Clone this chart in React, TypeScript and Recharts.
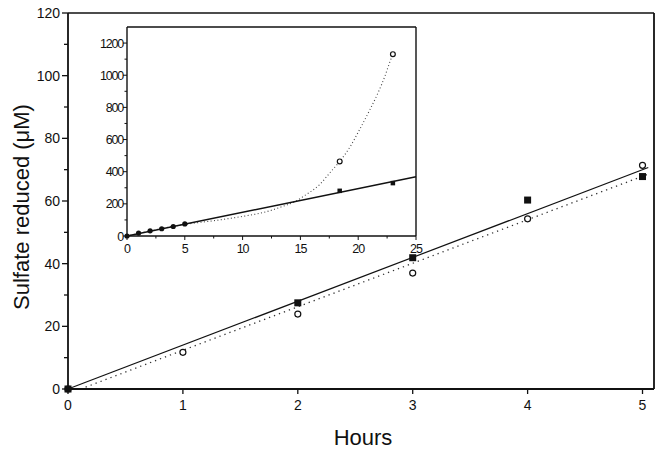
import { ComposedChart, Line, ReferenceLine, Scatter, XAxis, YAxis } from 'recharts'

const FONT = '"Liberation Sans", Arial, Helvetica, sans-serif'
const INK = '#111'

// main panel: sulfate reduced (uM) vs hours
const hours = [0, 1, 2, 3, 4, 5]
const filledSquares = [0, null, 27.5, 41.9, 60.3, 67.8]
const openCircles = [0, 11.7, 23.9, 37.0, 54.3, 71.4]
const solidFitX = [0, 5.05]
const solidFitY = [0, 70.7]
const dottedFitX = [0.11, 5.05]
const dottedFitY = [0, 68.6]
const mainXTicks = [0, 1, 2, 3, 4, 5]
const mainYTicks = [0, 10, 20, 30, 40, 50, 60, 70, 80, 90, 100, 110, 120]
const mainXMax = 5.1
const mainYMax = 120

// inset: same incubation over a longer time
const insetEarlyX = [0, 1, 2, 3, 4, 5]
const insetEarlyY = [0, 18, 32, 45, 59, 75]
const insetLateX = [18.4, 23.0]
const insetSquaresY = [281, 329]
const insetCirclesY = [464, 1131]
const insetSolidX = [0, 25]
const insetSolidY = [0, 368]
const insetCurveX = [0, 5, 8, 10, 12, 13.5, 14.5, 15.5, 16.7, 17.5, 18.4, 19.3, 20.1, 21, 21.7, 22.3, 22.7, 23]
const insetCurveY = [0, 72, 100, 122, 150, 185, 213, 258, 322, 389, 464, 555, 659, 784, 888, 992, 1075, 1131]
const insetXTicks = [0, 2.5, 5, 7.5, 10, 12.5, 15, 17.5, 20, 22.5, 25]
const insetYTicks = [0, 100, 200, 300, 400, 500, 600, 700, 800, 900, 1000, 1100, 1200]
const insetXMax = 25
const insetYMax = 1300

const pts = (xs: number[], ys: (number | null)[]) =>
  xs.map((x, i) => ({ x, y: ys[i] })).filter((p) => p.y !== null)

const squarePts = pts(hours, filledSquares)
const circlePts = pts(hours, openCircles)
const solidFit = pts(solidFitX, solidFitY)
const dottedFit = pts(dottedFitX, dottedFitY)
const insetEarly = pts(insetEarlyX, insetEarlyY)
const insetSquares = pts(insetLateX, insetSquaresY)
const insetCircles = pts(insetLateX, insetCirclesY)
const insetSolid = pts(insetSolidX, insetSolidY)
const insetCurve = pts(insetCurveX, insetCurveY)

const square = (size: number) => (p: any) =>
  <rect x={p.cx - size / 2} y={p.cy - size / 2} width={size} height={size} fill={INK} />
const ring = (r: number) => (p: any) =>
  <circle cx={p.cx} cy={p.cy} r={r} fill="#fff" stroke={INK} strokeWidth={1.2} />
const dot = (r: number) => (p: any) => <circle cx={p.cx} cy={p.cy} r={r} fill={INK} />

function MainYTick({ x, y, payload }: any) {
  const major = payload.value % 20 === 0
  return (
    <g>
      <line x1={x} x2={x - (major ? 6 : 4)} y1={y} y2={y} stroke={INK} strokeWidth={1.3} />
      {major && (
        <text x={x - 8} y={y} dy="0.36em" textAnchor="end" fontSize={14} fill={INK} fontFamily={FONT}>
          {payload.value}
        </text>
      )}
    </g>
  )
}

function MainXTick({ x, y, payload }: any) {
  return (
    <g>
      <line x1={x} x2={x} y1={y} y2={y + 5} stroke={INK} strokeWidth={1.3} />
      <text x={x} y={y + 21} textAnchor="middle" fontSize={14} fill={INK} fontFamily={FONT}>
        {payload.value}
      </text>
    </g>
  )
}

function InsetYTick({ x, y, payload }: any) {
  const major = payload.value % 200 === 0
  return (
    <g>
      <line x1={x} x2={x - (major ? 4 : 2.5)} y1={y} y2={y} stroke={INK} strokeWidth={1} />
      {major && (
        <text x={x - 4} y={y} dy="0.36em" textAnchor="end" fontSize={12.5} letterSpacing={-1.2} fill={INK} fontFamily={FONT}>
          {payload.value}
        </text>
      )}
    </g>
  )
}

function InsetXTick({ x, y, payload }: any) {
  const major = payload.value % 5 === 0
  return (
    <g>
      <line x1={x} x2={x} y1={y} y2={y + (major ? 4 : 2.5)} stroke={INK} strokeWidth={1} />
      {major && (
        <text x={x} y={y + 17} textAnchor="middle" fontSize={12.5} letterSpacing={-1} fill={INK} fontFamily={FONT}>
          {payload.value}
        </text>
      )}
    </g>
  )
}

function YTitle({ viewBox }: any) {
  const cx = (viewBox?.x ?? 0) + 21
  const cy = (viewBox?.y ?? 13) + (viewBox?.height ?? 376) / 2 + 6
  return (
    <text x={cx} y={cy} transform={`rotate(-90 ${cx} ${cy})`} textAnchor="middle" dy="0.36em" fontSize={22} fill={INK} fontFamily={FONT}>
      Sulfate reduced (μM)
    </text>
  )
}

function XTitle({ viewBox }: any) {
  const cx = (viewBox?.x ?? 68) + (viewBox?.width ?? 586) / 2 + 2
  return (
    <text x={cx} y={445} textAnchor="middle" fontSize={22} fill={INK} fontFamily={FONT}>
      Hours
    </text>
  )
}

export default function App() {
  return (
    <div style={{ position: 'fixed', left: 0, top: 0, width: 663, height: 452, background: '#fff' }}>
      <ComposedChart width={663} height={452} margin={{ top: 13, right: 9, bottom: 0, left: 0 }}>
        <XAxis
          xAxisId="b"
          dataKey="x"
          type="number"
          domain={[0, mainXMax]}
          ticks={mainXTicks}
          height={63}
          tickSize={0}
          tickMargin={0}
          tickLine={false}
          tick={<MainXTick />}
          axisLine={{ stroke: INK, strokeWidth: 1.8 }}
          label={<XTitle />}
        />
        <YAxis
          yAxisId="l"
          dataKey="y"
          type="number"
          domain={[0, mainYMax]}
          ticks={mainYTicks}
          interval={0}
          width={68}
          tickSize={0}
          tickMargin={0}
          tickLine={false}
          tick={<MainYTick />}
          axisLine={{ stroke: INK, strokeWidth: 1.8 }}
          label={<YTitle />}
        />
        <ReferenceLine xAxisId="b" yAxisId="l" y={mainYMax} stroke={INK} strokeWidth={1.6} />
        <ReferenceLine xAxisId="b" yAxisId="l" x={mainXMax} stroke={INK} strokeWidth={1.8} />
        <Line xAxisId="b" yAxisId="l" data={solidFit} dataKey="y" type="linear" dot={false} stroke={INK} strokeWidth={1.2} isAnimationActive={false} />
        <Line xAxisId="b" yAxisId="l" data={dottedFit} dataKey="y" type="linear" dot={false} stroke="#333" strokeWidth={1.3} strokeDasharray="1.3 4" isAnimationActive={false} />
        <Scatter xAxisId="b" yAxisId="l" data={circlePts} dataKey="y" shape={ring(3)} isAnimationActive={false} />
        <Scatter xAxisId="b" yAxisId="l" data={squarePts} dataKey="y" shape={square(7)} isAnimationActive={false} />
      </ComposedChart>

      <div style={{ position: 'absolute', left: 86, top: 17 }}>
        <ComposedChart width={340} height={239} margin={{ top: 10, right: 10, bottom: 0, left: 0 }}>
          <XAxis
            xAxisId="b"
            dataKey="x"
            type="number"
            domain={[0, insetXMax]}
            ticks={insetXTicks}
            interval={0}
            height={20}
            tickSize={0}
            tickMargin={0}
            tickLine={false}
            tick={<InsetXTick />}
            axisLine={{ stroke: INK, strokeWidth: 1.4 }}
          />
          <YAxis
            yAxisId="l"
            dataKey="y"
            type="number"
            domain={[0, insetYMax]}
            ticks={insetYTicks}
            interval={0}
            width={41}
            tickSize={0}
            tickMargin={0}
            tickLine={false}
            tick={<InsetYTick />}
            axisLine={{ stroke: INK, strokeWidth: 1.4 }}
          />
          <ReferenceLine xAxisId="b" yAxisId="l" y={insetYMax} stroke={INK} strokeWidth={1.4} />
          <ReferenceLine xAxisId="b" yAxisId="l" x={insetXMax} stroke={INK} strokeWidth={1.4} />
          <Line xAxisId="b" yAxisId="l" data={insetCurve} dataKey="y" type="monotone" dot={false} stroke="#444" strokeWidth={1.1} strokeDasharray="1 2.4" isAnimationActive={false} />
          <Line xAxisId="b" yAxisId="l" data={insetSolid} dataKey="y" type="linear" dot={false} stroke={INK} strokeWidth={1.5} isAnimationActive={false} />
          <Scatter xAxisId="b" yAxisId="l" data={insetEarly} dataKey="y" shape={dot(2.6)} isAnimationActive={false} />
          <Scatter xAxisId="b" yAxisId="l" data={insetSquares} dataKey="y" shape={square(4.5)} isAnimationActive={false} />
          <Scatter xAxisId="b" yAxisId="l" data={insetCircles} dataKey="y" shape={ring(2.4)} isAnimationActive={false} />
        </ComposedChart>
      </div>
    </div>
  )
}
